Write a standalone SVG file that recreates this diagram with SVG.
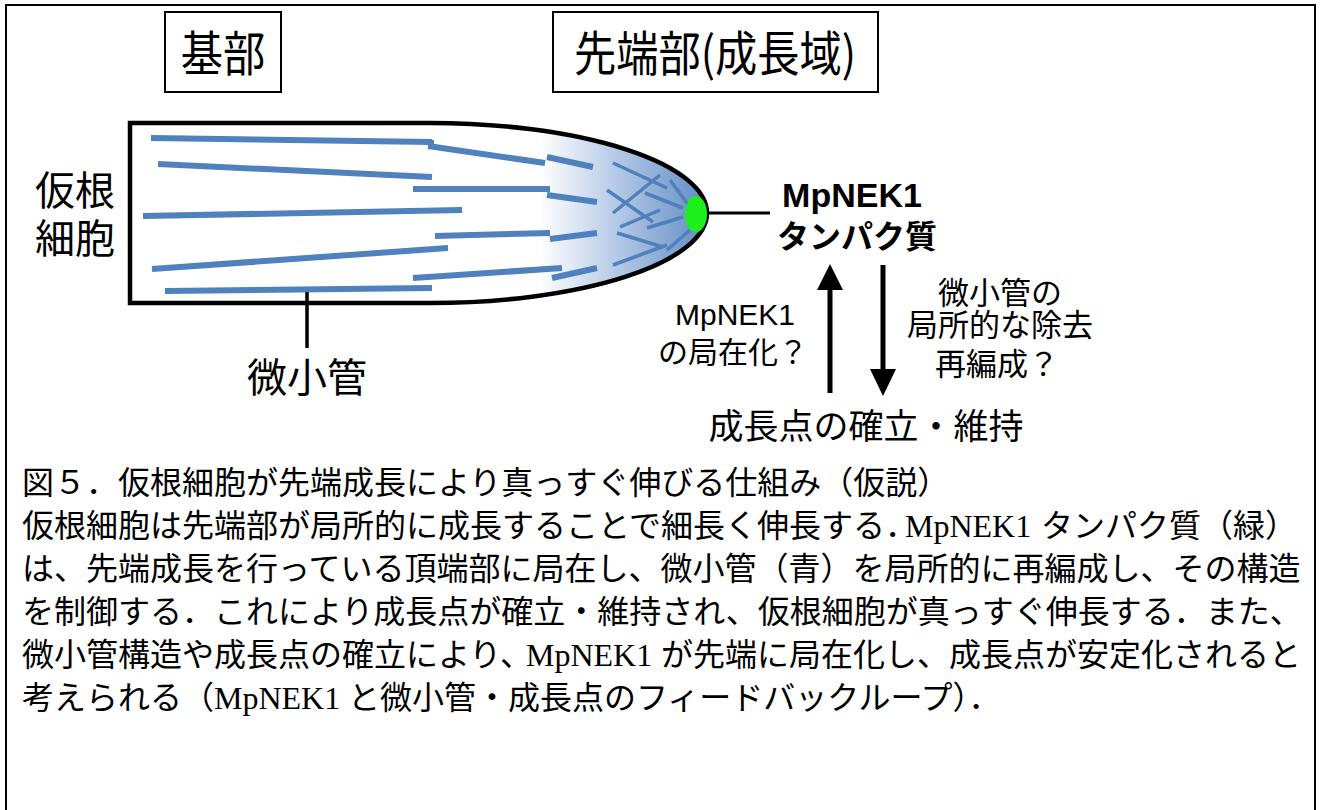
<svg xmlns="http://www.w3.org/2000/svg" width="1320" height="810" viewBox="0 0 1320 810">
  <defs>
    <style>
      .jp { font-family: "Noto Sans CJK JP", "Noto Sans", sans-serif; fill: #000; }
      .lat { font-family: "Liberation Sans", Arial, sans-serif; fill: #000; }
      .serif { font-family: "Liberation Serif", "Times New Roman", serif; fill: #000; }
      .head { font-size: 48px; }
      .side { font-size: 40px; }
      .mid { font-size: 30px; }
      .cap { font-size: 32px; }
      .mt { stroke: #4f81bd; stroke-width: 6; fill: none; }
      .mt-tip { stroke: #4f81bd; stroke-width: 3.5; fill: none; }
      .wire { stroke: #000; fill: none; }
      .box { fill: #fff; stroke: #000; stroke-width: 2; }
    </style>
    <linearGradient id="tipShade" gradientUnits="userSpaceOnUse" x1="540" y1="0" x2="712" y2="0">
      <stop offset="0" stop-color="#ffffff"/>
      <stop offset="0.45" stop-color="#b4c9e6"/>
      <stop offset="1" stop-color="#5c88c2"/>
    </linearGradient>
  </defs>

  <rect x="0" y="0" width="1320" height="810" fill="#fff"/>
  <!-- frame around the whole figure -->
  <rect x="6" y="5" width="1309" height="830" fill="none" stroke="#000" stroke-width="2"/>

  <!-- region labels (narrow, tall lettering) -->
  <g id="label-base">
    <rect class="box" x="165" y="12" width="116" height="80"/>
    <text class="jp head" transform="translate(223,71) scale(0.88,1)" text-anchor="middle">基部</text>
  </g>
  <g id="label-tip">
    <rect class="box" x="553" y="12" width="325" height="80"/>
    <text class="jp head" transform="translate(715,71) scale(0.88,1)" text-anchor="middle">先端部(成長域)</text>
  </g>

  <!-- rhizoid cell body with microtubules -->
  <g id="cell">
    <path d="M130,123 L430,123 A277,90 0 0 1 707,213 A277,90 0 0 1 430,303 L130,303 Z" fill="url(#tipShade)" stroke="none"/>
    <g id="microtubules">
      <line class="mt" x1="151" y1="138" x2="432" y2="142"/>
      <polyline class="mt" points="431,140 431,146 428,146"/>
      <line class="mt" x1="428" y1="146" x2="545" y2="163"/>
      <line class="mt" x1="158" y1="164" x2="432" y2="177"/>
      <line class="mt" x1="413" y1="189" x2="550" y2="189"/>
      <line class="mt" x1="547" y1="195" x2="597" y2="202"/>
      <line class="mt" x1="143" y1="216" x2="462" y2="210"/>
      <line class="mt" x1="435" y1="236" x2="550" y2="233"/>
      <line class="mt" x1="550" y1="239" x2="597" y2="233"/>
      <line class="mt" x1="152" y1="269" x2="448" y2="248"/>
      <line class="mt" x1="413" y1="278" x2="562" y2="268"/>
      <line class="mt" x1="552" y1="278" x2="597" y2="268"/>
      <line class="mt" x1="165" y1="291" x2="432" y2="288"/>
      <line class="mt" x1="547" y1="157" x2="593" y2="167"/>
      <!-- tangled arrays near the apex -->
      <line class="mt-tip" x1="613" y1="163" x2="667" y2="188"/>
      <line class="mt-tip" x1="613" y1="213" x2="660" y2="175"/>
      <line class="mt-tip" x1="607" y1="190" x2="653" y2="222"/>
      <line class="mt-tip" x1="645" y1="193" x2="683" y2="208"/>
      <line class="mt-tip" x1="670" y1="180" x2="690" y2="207"/>
      <line class="mt-tip" x1="620" y1="227" x2="660" y2="210"/>
      <line class="mt-tip" x1="647" y1="228" x2="683" y2="217"/>
      <line class="mt-tip" x1="617" y1="233" x2="663" y2="247"/>
      <line class="mt-tip" x1="613" y1="265" x2="667" y2="245"/>
      <line class="mt-tip" x1="667" y1="250" x2="690" y2="230"/>
    </g>
    <path d="M130,123 L430,123 A277,90 0 0 1 707,213 A277,90 0 0 1 430,303 L130,303 Z" fill="none" stroke="#000" stroke-width="4.5" stroke-linejoin="miter"/>
    <ellipse id="mpnek1-spot" cx="696" cy="214" rx="11" ry="18" fill="#1cf01c"/>
  </g>

  <g id="label-rhizoid">
    <text class="jp side" x="35" y="205">仮根<tspan x="35" y="253">細胞</tspan></text>
  </g>

  <g id="label-microtubule">
    <text class="jp side" x="307" y="392" text-anchor="middle">微小管</text>
  </g>

  <g id="label-protein">
    <text class="lat" x="852" y="207" font-size="34" font-weight="bold" text-anchor="middle">MpNEK1</text>
    <text class="jp" x="857" y="248" font-size="32" font-weight="bold" text-anchor="middle">タンパク質</text>
  </g>

  <g id="label-localization">
    <text class="lat mid" x="735" y="325" text-anchor="middle">MpNEK1</text>
    <text class="jp mid" x="733" y="363" text-anchor="middle">の局在化？</text>
  </g>

  <g id="label-remodel">
    <text class="jp" font-size="31" text-anchor="middle" x="1000" y="304">微小管の<tspan x="1000" y="336">局所的な除去</tspan><tspan x="997" y="375">再編成？</tspan></text>
  </g>

  <g id="label-growth-point">
    <text class="jp" x="866" y="439" font-size="35" text-anchor="middle">成長点の確立・維持</text>
  </g>

  <!-- connectors -->
  <g id="connectors">
    <line class="wire" x1="707" y1="213" x2="770" y2="213" stroke-width="3"/>
    <line class="wire" x1="307" y1="292" x2="307" y2="348" stroke-width="3.5"/>
    <line class="wire" x1="830" y1="393" x2="830" y2="286" stroke-width="5"/>
    <polygon points="830,264 817,290 843,290" fill="#000"/>
    <line class="wire" x1="883" y1="265" x2="883" y2="372" stroke-width="5"/>
    <polygon points="883,396 870,369 896,369" fill="#000"/>
  </g>

  <!-- caption -->
  <g id="caption" class="cap">
    <text class="jp cap" x="22" y="494">図５．仮根細胞が先端成長により真っすぐ伸びる仕組み（仮説）</text>
    <text class="jp cap" x="22" y="537">仮根細胞は先端部が局所的に成長することで細長く伸長する．</text>
    <text class="serif cap" x="905" y="537">MpNEK1</text>
    <text class="jp cap" x="1041" y="537">タンパク質（緑）</text>
    <text class="jp cap" x="22" y="580">は、先端成長を行っている頂端部に局在し、微小管（青）を局所的に再編成し、その構造</text>
    <text class="jp cap" x="22" y="623">を制御する．これにより成長点が確立・維持され、仮根細胞が真っすぐ伸長する．また、</text>
    <text class="jp cap" x="22" y="666">微小管構造や成長点の確立により、</text>
    <text class="serif cap" x="526" y="666">MpNEK1</text>
    <text class="jp cap" x="661" y="666">が先端に局在化し、成長点が安定化されると</text>
    <text class="jp cap" x="22" y="709">考えられる（</text>
    <text class="serif cap" x="214" y="709">MpNEK1</text>
    <text class="jp cap" x="348" y="709">と微小管・成長点のフィードバックループ）．</text>
  </g>
</svg>
